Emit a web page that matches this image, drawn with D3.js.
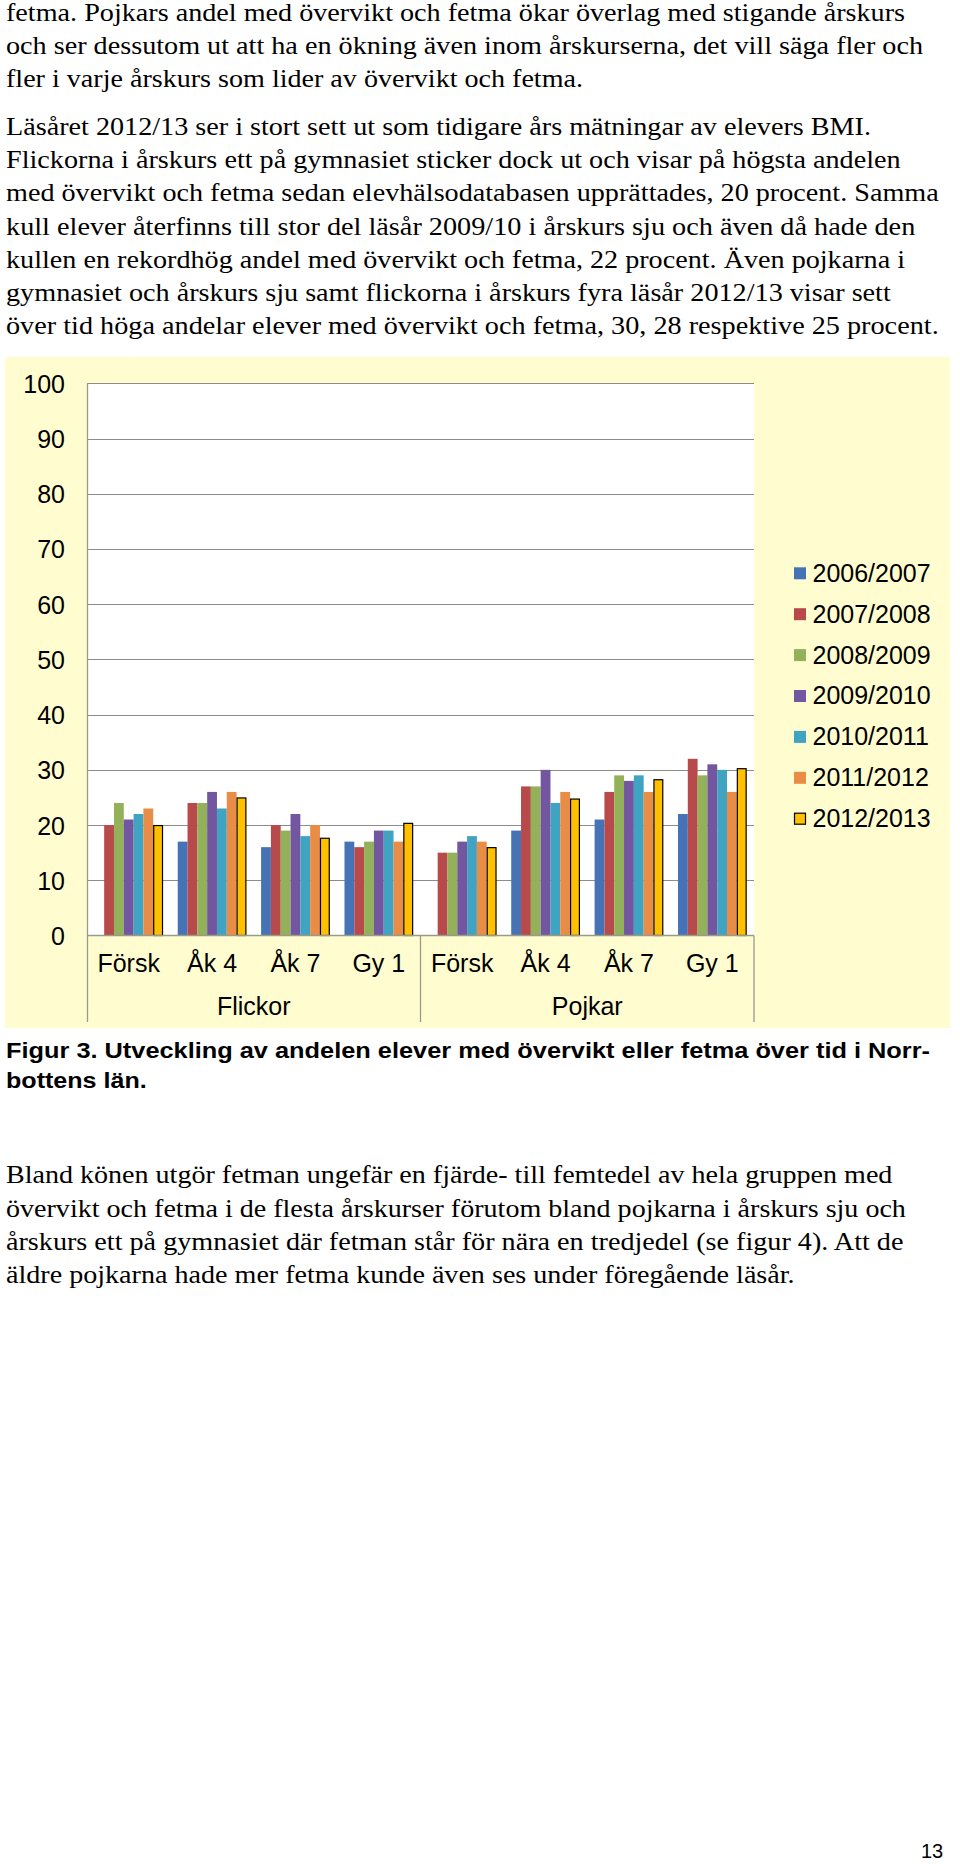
<!DOCTYPE html>
<html>
<head>
<meta charset="utf-8">
<script src="https://cdn.jsdelivr.net/npm/d3@7"></script>
<style>
  html, body { margin: 0; padding: 0; background: #ffffff; }
  svg { display: block; }
</style>
</head>
<body>
<svg id="page" width="960" height="1864"></svg>
<script>
// ---------------- DATA ----------------
const groups = ["Flickor", "Pojkar"];
const categories = ["Försk", "Åk 4", "Åk 7", "Gy 1"];
const series = ["2006/2007", "2007/2008", "2008/2009", "2009/2010", "2010/2011", "2011/2012", "2012/2013"];
// values: Flickor Försk, Åk 4, Åk 7, Gy 1, Pojkar Försk, Åk 4, Åk 7, Gy 1
const v2006 = [null, 17, 16, 17, null, 19, 21, 22];
const v2007 = [20, 24, 20, 16, 15, 27, 26, 32];
const v2008 = [24, 24, 19, 17, 15, 27, 29, 29];
const v2009 = [21, 26, 22, 19, 17, 30, 28, 31];
const v2010 = [22, 23, 18, 19, 18, 24, 29, 30];
const v2011 = [23, 26, 20, 17, 17, 26, 26, 26];
const v2012 = [20, 25, 17.7, 20.4, 16, 24.8, 28.3, 30.3];
const yTicks = [0, 10, 20, 30, 40, 50, 60, 70, 80, 90, 100];

const introLines = [
  "fetma. Pojkars andel med övervikt och fetma ökar överlag med stigande årskurs",
  "och ser dessutom ut att ha en ökning även inom årskurserna, det vill säga fler och",
  "fler i varje årskurs som lider av övervikt och fetma."
];
const para2Lines = [
  "Läsåret 2012/13 ser i stort sett ut som tidigare års mätningar av elevers BMI.",
  "Flickorna i årskurs ett på gymnasiet sticker dock ut och visar på högsta andelen",
  "med övervikt och fetma sedan elevhälsodatabasen upprättades, 20 procent. Samma",
  "kull elever återfinns till stor del läsår 2009/10 i årskurs sju och även då hade den",
  "kullen en rekordhög andel med övervikt och fetma, 22 procent. Även pojkarna i",
  "gymnasiet och årskurs sju samt flickorna i årskurs fyra läsår 2012/13 visar sett",
  "över tid höga andelar elever med övervikt och fetma, 30, 28 respektive 25 procent."
];
const captionLines = [
  "Figur 3. Utveckling av andelen elever med övervikt eller fetma över tid i Norr-",
  "bottens län."
];
const para3Lines = [
  "Bland könen utgör fetman ungefär en fjärde- till femtedel av hela gruppen med",
  "övervikt och fetma i de flesta årskurser förutom bland pojkarna i årskurs sju och",
  "årskurs ett på gymnasiet där fetman står för nära en tredjedel (se figur 4). Att de",
  "äldre pojkarna hade mer fetma kunde även ses under föregående läsår."
];
const pageNumber = "13";

// ---------------- LAYOUT (not data) ----------------
const introBase = [21, 54, 87];
const introEnd = [905, 923, 583];
const para2Base = [135.3, 168.4, 201.4, 234.5, 267.6, 300.7, 333.7];
const para2End = [871, 900.6, 938.7, 915.3, 905, 890.8, 938.7];
const capBase = [1057.7, 1088.3];
const capEnd = [930, 146.7];
const para3Base = [1183.3, 1216.6, 1249.9, 1283];
const para3End = [892.4, 905.9, 903.4, 794.6];
const textLeft = 6;

const colors = ["#4573B5", "#B94A4B", "#93B158", "#7257A0", "#41A3C2", "#E98C45", "#FFC000"];

const svg = d3.select("#page");
svg.append("rect").attr("width", 960).attr("height", 1864).attr("fill", "#ffffff");

// ---------------- BODY TEXT ----------------
function textBlock(lines, bases, ends, font, size, weight) {
  svg.append("g").selectAll("text").data(lines).join("text")
    .attr("x", textLeft)
    .attr("y", (d, i) => bases[i])
    .attr("font-family", font)
    .attr("font-size", size)
    .attr("font-weight", weight)
    .attr("fill", "#000")
    .attr("textLength", (d, i) => ends[i] - textLeft)
    .attr("lengthAdjust", "spacingAndGlyphs")
    .text(d => d);
}
const serif = "'Liberation Serif', 'Times New Roman', serif";
const sans = "'Liberation Sans', Arial, sans-serif";
textBlock(introLines, introBase, introEnd, serif, 25, "normal");
textBlock(para2Lines, para2Base, para2End, serif, 25, "normal");
textBlock(captionLines, capBase, capEnd, sans, 21.5, "bold");
textBlock(para3Lines, para3Base, para3End, serif, 25, "normal");

svg.append("text").attr("x", 921).attr("y", 1858)
  .attr("font-family", sans).attr("font-size", 20).attr("fill", "#000")
  .text(pageNumber);

// ---------------- CHART ----------------
const chart = svg.append("g");
chart.append("rect").attr("x", 5).attr("y", 357).attr("width", 945).attr("height", 671)
  .attr("fill", "#FFFDD0");

const plotL = 87, plotR = 754, plotT = 383.3, plotB = 935.5;
chart.append("rect").attr("x", plotL).attr("y", plotT).attr("width", plotR - plotL).attr("height", plotB - plotT)
  .attr("fill", "#ffffff");

const y = d3.scaleLinear().domain([0, 100]).range([plotB, plotT]);

// gridlines
chart.append("g").selectAll("line").data(yTicks.filter(t => t > 0)).join("line")
  .attr("x1", plotL).attr("x2", plotR)
  .attr("y1", d => Math.round(y(d)) + 0.5).attr("y2", d => Math.round(y(d)) + 0.5)
  .attr("stroke", "#8c8c8c").attr("stroke-width", 1);

// y axis labels
const yAxis = d3.axisLeft(y).tickValues(yTicks).tickSize(0).tickPadding(0).tickFormat(d3.format("d"));
const yg = chart.append("g").attr("transform", `translate(65,0)`).call(yAxis);
yg.select(".domain").remove();
yg.selectAll("text").attr("font-family", sans).attr("font-size", 25).attr("fill", "#000")
  .attr("dy", null).attr("dominant-baseline", "central");

// category scales
const keys = d3.range(groups.length * categories.length).map(String);
const x0 = d3.scaleBand().domain(keys).range([plotL, plotR]).padding(0);
const x1 = d3.scaleBand().domain(series).range([0, x0.bandwidth()]).paddingInner(0).paddingOuter(0.75);
const gx = d3.scaleBand().domain(groups).range([plotL, plotR]).padding(0);

const allValues = [v2006, v2007, v2008, v2009, v2010, v2011, v2012];
const barData = [];
series.forEach((s, si) => {
  allValues[si].forEach((v, ci) => {
    if (v !== null) barData.push({ s, si, key: keys[ci], v });
  });
});

chart.append("g").selectAll("rect").data(barData).join("rect")
  .attr("x", d => x0(d.key) + x1(d.s) + (d.si === 6 ? 0.5 : 0))
  .attr("y", d => y(d.v) + (d.si === 6 ? 0.5 : 0))
  .attr("width", d => x1.bandwidth() - (d.si === 6 ? 1 : 0))
  .attr("height", d => plotB - y(d.v) - (d.si === 6 ? 0.5 : 0))
  .attr("fill", d => colors[d.si])
  .attr("stroke", d => d.si === 6 ? "#000" : "none")
  .attr("stroke-width", 1.2);

// axis lines
chart.append("line").attr("x1", plotL + 0.5).attr("x2", plotL + 0.5).attr("y1", plotT).attr("y2", 1022)
  .attr("stroke", "#9a9a8a").attr("stroke-width", 1.3);
chart.append("line").attr("x1", plotL).attr("x2", plotR).attr("y1", plotB).attr("y2", plotB)
  .attr("stroke", "#9a9a8a").attr("stroke-width", 1.3);
// group separators
chart.append("g").selectAll("line").data(groups).join("line")
  .attr("x1", d => gx(d) + gx.bandwidth()).attr("x2", d => gx(d) + gx.bandwidth())
  .attr("y1", plotB).attr("y2", 1022)
  .attr("stroke", "#9a9a8a").attr("stroke-width", 1.3);

// category labels
const xAxis = d3.axisBottom(x0).tickSize(0).tickPadding(0)
  .tickFormat(k => categories[+k % categories.length]);
const xg = chart.append("g").attr("transform", `translate(0,971.7)`).call(xAxis);
xg.select(".domain").remove();
xg.selectAll("text").attr("font-family", sans).attr("font-size", 25).attr("fill", "#000")
  .attr("dy", null).attr("y", 0);

// group labels
const gAxis = d3.axisBottom(gx).tickSize(0).tickPadding(0);
const gg = chart.append("g").attr("transform", `translate(0,1015)`).call(gAxis);
gg.select(".domain").remove();
gg.selectAll("text").attr("font-family", sans).attr("font-size", 25).attr("fill", "#000")
  .attr("dy", null).attr("y", 0);

// legend
const legend = chart.append("g").selectAll("g").data(series).join("g")
  .attr("transform", (d, i) => `translate(794,${581.7 + i * 40.9})`);
legend.append("rect")
  .attr("x", (d, i) => i === 6 ? 0.5 : 0).attr("y", (d, i) => i === 6 ? -13.9 : -14.4)
  .attr("width", (d, i) => i === 6 ? 11 : 12).attr("height", (d, i) => i === 6 ? 11 : 12)
  .attr("fill", (d, i) => colors[i])
  .attr("stroke", (d, i) => i === 6 ? "#000" : "none").attr("stroke-width", 1.2);
legend.append("text").attr("x", 18.5).attr("y", 0)
  .attr("font-family", sans).attr("font-size", 25).attr("fill", "#000")
  .text(d => d);
</script>
</body>
</html>
